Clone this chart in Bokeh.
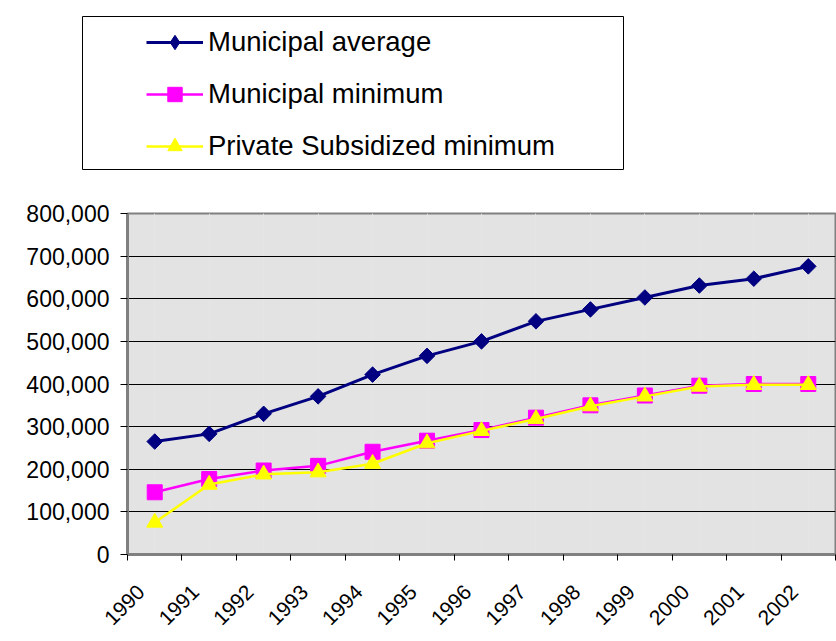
from math import pi

from bokeh.plotting import figure
from bokeh.layouts import column
from bokeh.models import (Legend, LegendItem, Range1d, FactorRange, LinearAxis,
                          FixedTicker, NumeralTickFormatter, CustomJSTickFormatter)
from bokeh.embed import file_html
from bokeh.resources import INLINE

# ---- data -------------------------------------------------------------
years = ["1990", "1991", "1992", "1993", "1994", "1995", "1996",
         "1997", "1998", "1999", "2000", "2001", "2002"]
municipal_average = [265000, 283000, 330000, 371000, 422000, 466000, 500000,
                     547000, 575000, 603000, 631000, 647000, 676000]
municipal_minimum = [146000, 177000, 197000, 208000, 241000, 267000, 292000,
                     321000, 350000, 373000, 396000, 400000, 400000]
private_subsidized_minimum = [75000, 164000, 188000, 193000, 213000, 261000, 290000,
                              318000, 348000, 371000, 394000, 398000, 398000]
y_ticks = [0, 100000, 200000, 300000, 400000, 500000, 600000, 700000, 800000]
series_names = ["Municipal average", "Municipal minimum", "Private Subsidized minimum"]

FONT = "Liberation Sans"
navy, magenta, yellow = "#000080", "#FF00FF", "#FFFF00"
colors = [navy, magenta, yellow]
widths = [3, 2.5, 2.5]
plot_markers = [dict(marker="square", angle=pi / 4, size=11),
                dict(marker="square", size=15),
                dict(marker="triangle", size=16)]
legend_markers = [dict(marker="diamond", size=15),
                  dict(marker="square", size=15),
                  dict(marker="triangle", size=16)]
values = [municipal_average, municipal_minimum, private_subsidized_minimum]


def draw_series(fig, markers, visible=True):
    out = []
    for vals, col, lw, mk in zip(values, colors, widths, markers):
        ln = fig.line(years, vals, line_color=col, line_width=lw, visible=visible)
        sc = fig.scatter(years, vals, fill_color=col, line_color=col, visible=visible, **mk)
        out.append([ln, sc])
    return out


# ---- legend panel (its frame is the legend box) --------------------------
p_leg = figure(width=836, height=170,
               x_range=FactorRange(*years), y_range=Range1d(0, 800000),
               x_axis_location=None, y_axis_location=None,
               output_backend="svg", toolbar_location=None,
               min_border_left=82, min_border_right=213,
               min_border_top=16, min_border_bottom=0)
p_leg.frame_align = False
p_leg.xgrid.visible = False
p_leg.ygrid.visible = False
p_leg.background_fill_color = "white"
p_leg.border_fill_color = "white"
p_leg.outline_line_color = "black"
p_leg.outline_line_width = 1

leg_renderers = draw_series(p_leg, legend_markers, visible=False)
legend = Legend(items=[LegendItem(label=name, renderers=r)
                       for name, r in zip(series_names, leg_renderers)],
                location=(64, 6), padding=0, margin=0, spacing=16,
                glyph_width=57, glyph_height=36, label_height=36,
                label_standoff=5,
                label_text_font=FONT, label_text_font_size="27.5px",
                label_text_color="black",
                background_fill_alpha=0, border_line_alpha=0)
p_leg.add_layout(legend, "center")

# ---- main chart -------------------------------------------------------------
p = figure(width=836, height=471,
           x_range=FactorRange(*years), y_range=Range1d(0, 800000),
           x_axis_location=None,
           output_backend="svg", toolbar_location=None,
           min_border_left=127, min_border_right=1,
           min_border_top=43, min_border_bottom=87)
p.frame_align = False

p.background_fill_color = "#E3E3E3"
p.border_fill_color = "white"
p.outline_line_color = "#808080"
p.outline_line_width = 2

p.ygrid.grid_line_color = "black"
p.ygrid.grid_line_width = 1
p.ygrid.ticker = FixedTicker(ticks=y_ticks, minor_ticks=[])

p.yaxis.ticker = FixedTicker(ticks=y_ticks, minor_ticks=[])
p.yaxis.formatter = NumeralTickFormatter(format="0,0")
p.yaxis.major_label_text_font = FONT
p.yaxis.major_label_text_font_size = "23px"
p.yaxis.major_label_text_color = "black"
p.yaxis.axis_line_color = "#808080"
p.yaxis.axis_line_width = 3
p.yaxis.major_tick_line_color = "black"
p.yaxis.major_tick_out = 7
p.yaxis.major_tick_in = 0
p.yaxis.minor_tick_line_color = None
p.yaxis.major_label_standoff = 11

# boundary ticks between categories (synthetic category coordinates), no labels
tick_axis = LinearAxis(ticker=FixedTicker(ticks=list(range(len(years) + 1)), minor_ticks=[]),
                       axis_line_color="#808080", axis_line_width=3,
                       major_tick_line_color="black", major_tick_out=6, major_tick_in=0,
                       minor_tick_line_color=None,
                       major_label_text_color=None,
                       major_label_text_font_size="1px", major_label_standoff=0)
p.add_layout(tick_axis, "below")

# category labels, rotated, end slightly left of each category centre
label_shift = 0.25
label_axis = LinearAxis(ticker=FixedTicker(ticks=[i + label_shift for i in range(len(years))],
                                           minor_ticks=[]),
                        formatter=CustomJSTickFormatter(args=dict(labels=years),
                                                        code="return labels[Math.floor(tick)]"),
                        axis_line_color=None, major_tick_line_color=None,
                        minor_tick_line_color=None,
                        major_tick_out=0, major_tick_in=0,
                        major_label_orientation=pi / 4,
                        major_label_standoff=28,
                        major_label_text_font=FONT,
                        major_label_text_font_size="21px",
                        major_label_text_color="black")
p.add_layout(label_axis, "below")

draw_series(p, plot_markers)

layout = column(p_leg, p, spacing=0)
open("out.html", "w").write(file_html(layout, INLINE))
